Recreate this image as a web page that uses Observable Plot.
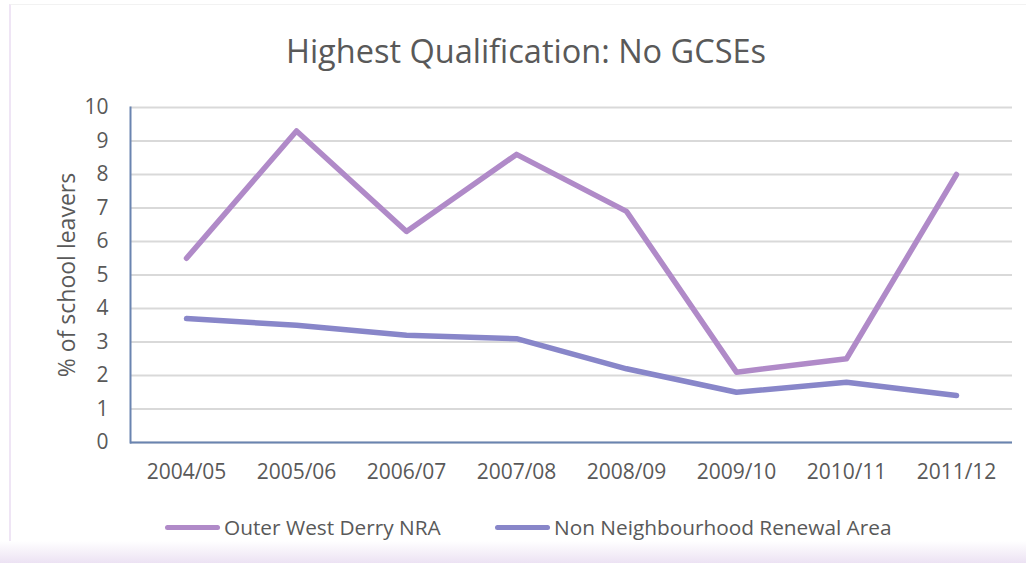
<!DOCTYPE html>
<html>
<head>
<meta charset="utf-8">
<script src="https://cdn.jsdelivr.net/npm/d3@7"></script>
<script src="https://cdn.jsdelivr.net/npm/@observablehq/plot@0.6"></script>
<style>
  html, body { margin: 0; padding: 0; background: #fff; }
  #wrap { position: relative; width: 1026px; height: 563px; overflow: hidden; font-family: "Open Sans", sans-serif; color: #595959; }
  #frame { position: absolute; left: 9px; top: 4px; right: 0; bottom: 0; border-left: 2px solid #efe5f5; border-top: 1px solid #f2f2f2; }
  #fade { position: absolute; left: 0; right: 0; bottom: 0; height: 22px; background: linear-gradient(#ffffff, #ece2f3); }
  #title { position: absolute; left: 13px; width: 1026px; top: 29px; text-align: center; font-size: 32.5px; line-height: 44px; }
  #chart { position: absolute; left: 0; top: 80px; }
  #legend { position: absolute; left: 0; top: 513px; width: 1026px; font-size: 20.8px; line-height: 28px; }
  .item { position: absolute; top: 0; display: flex; align-items: center; }
  .sw { width: 55px; height: 5px; border-radius: 3px; margin-right: 4px; }
</style>
</head>
<body>
<div id="wrap">
  <div id="frame"></div>
  <div id="fade"></div>
  <div id="title">Highest Qualification: No GCSEs</div>
  <div id="chart"></div>
  <div id="legend"></div>
</div>
<script>
const years = ["2004/05", "2005/06", "2006/07", "2007/08", "2008/09", "2009/10", "2010/11", "2011/12"];
const seriesNames = ["Outer West Derry NRA", "Non Neighbourhood Renewal Area"];
const outerWest = [5.5, 9.3, 6.3, 8.6, 6.9, 2.1, 2.5, 8.0];
const nonNRA = [3.7, 3.5, 3.2, 3.1, 2.2, 1.5, 1.8, 1.4];
const yTicks = [0, 1, 2, 3, 4, 5, 6, 7, 8, 9, 10];
const colors = ["#b08ac8", "#8886c9"];

const data = [];
years.forEach((y, i) => {
  data.push({year: y, series: seriesNames[0], value: outerWest[i]});
  data.push({year: y, series: seriesNames[1], value: nonNRA[i]});
});

const plot = Plot.plot({
  width: 1026,
  height: 420,
  marginLeft: 130,
  marginRight: 14,
  marginTop: 27,
  marginBottom: 58,
  style: {fontFamily: "'Open Sans', sans-serif", fontSize: "23px", color: "#595959", background: "transparent"},
  x: {type: "point", domain: years, padding: 0.5},
  y: {domain: [0, 10]},
  color: {domain: seriesNames, range: colors},
  marks: [
    Plot.gridY(yTicks, {stroke: "#d9d9d9", strokeOpacity: 1, strokeWidth: 2}),
    Plot.axisY(yTicks, {tickSize: 0, tickPadding: 22, fontSize: 21, label: null}),
    Plot.axisY({ticks: [], tickSize: 0, label: "% of school leavers", labelAnchor: "center", labelArrow: "none", labelOffset: 72}),
    Plot.axisX({tickSize: 0, tickPadding: 22, label: null, fontSize: 21}),
    Plot.ruleY([0], {stroke: "#6a84b0", strokeWidth: 2}),
    Plot.frame({anchor: "left", stroke: "#6a84b0", strokeWidth: 2}),
    Plot.line(data, {x: "year", y: "value", z: "series", stroke: "series", strokeWidth: 5.5, strokeLinecap: "round", strokeLinejoin: "round"})
  ]
});
document.getElementById("chart").appendChild(plot);

const legend = document.getElementById("legend");
const lefts = [165, 495];
seriesNames.forEach((name, i) => {
  const it = document.createElement("div");
  it.className = "item";
  it.style.left = lefts[i] + "px";
  const sw = document.createElement("div");
  sw.className = "sw";
  sw.style.background = colors[i];
  const t = document.createElement("span");
  t.textContent = name;
  it.appendChild(sw);
  it.appendChild(t);
  legend.appendChild(it);
});
</script>
</body>
</html>
